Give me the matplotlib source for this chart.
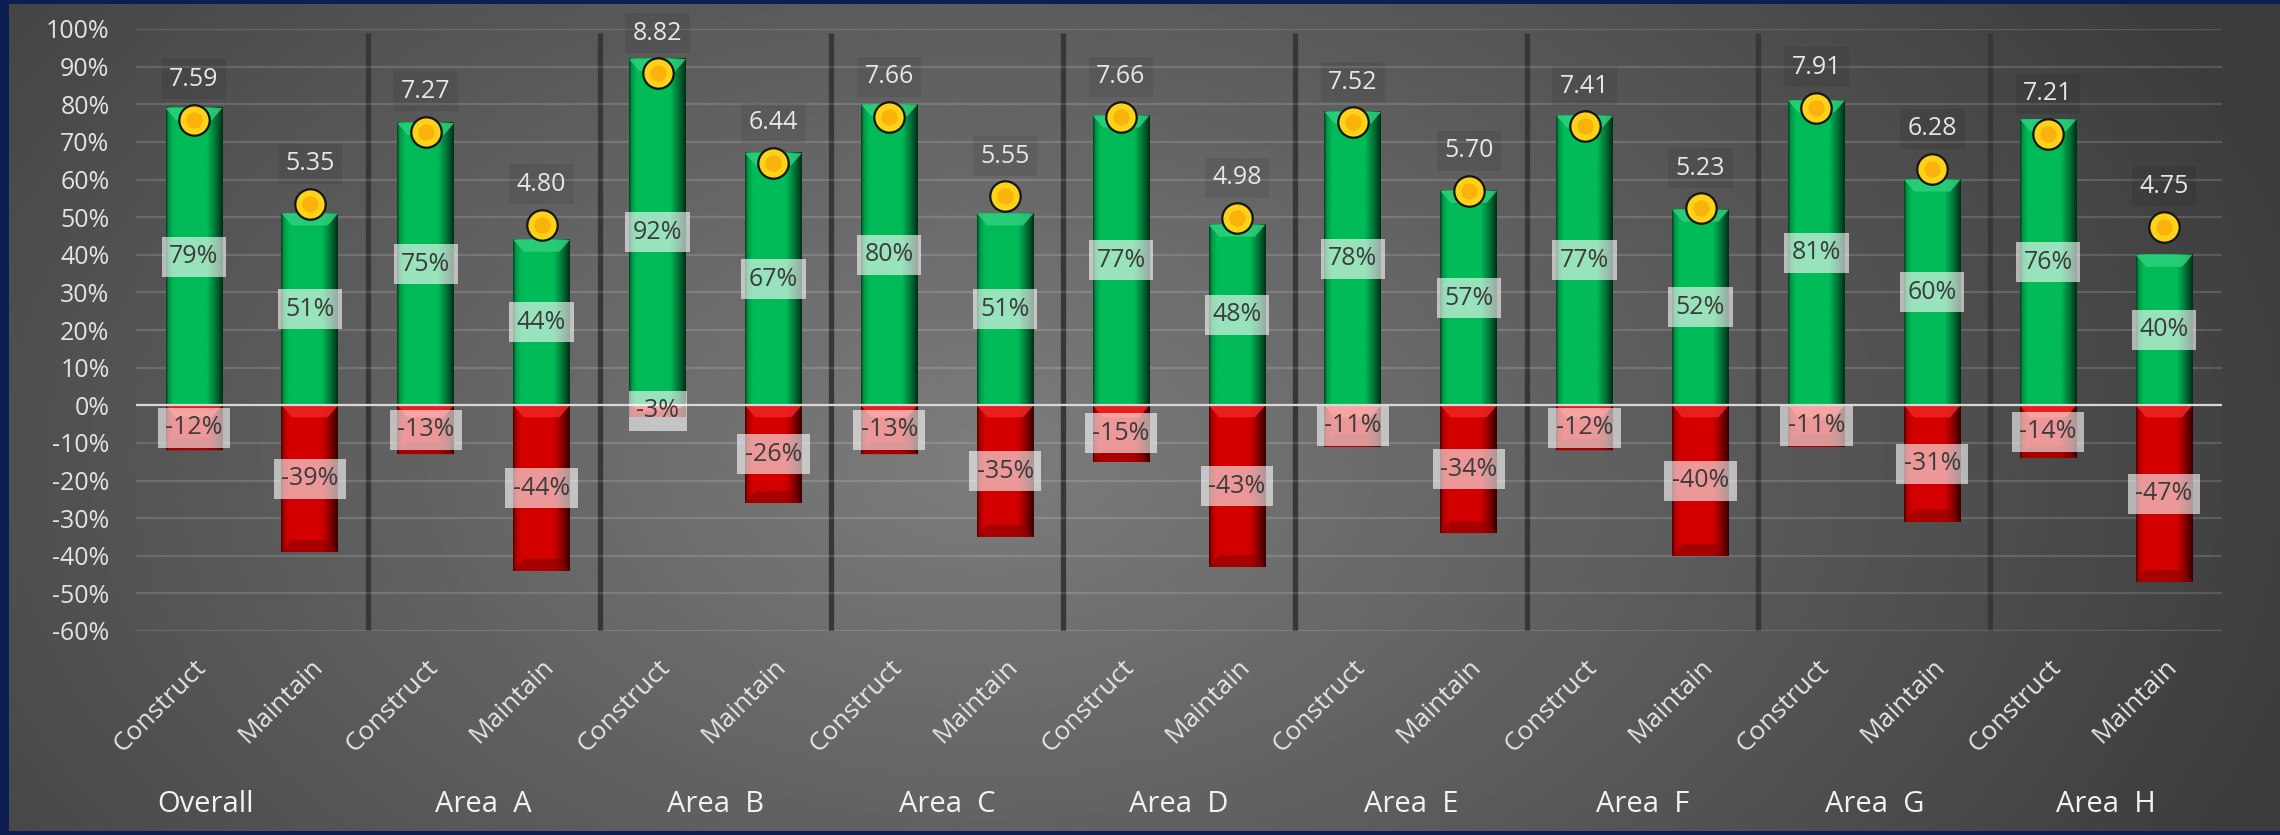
import matplotlib.pyplot as plt
import numpy as np
from matplotlib.colors import to_rgb
from matplotlib.patches import Polygon
from matplotlib.transforms import blended_transform_factory

plt.rcParams['font.family'] = ['Open Sans', 'DejaVu Sans']

groups = ['Overall', 'Area  A', 'Area  B', 'Area  C', 'Area  D',
          'Area  E', 'Area  F', 'Area  G', 'Area  H']
kinds = ['Construct', 'Maintain']

# share of positive / negative answers, percent
positive = [79, 51, 75, 44, 92, 67, 80, 51, 77, 48, 78, 57, 77, 52, 81, 60, 76, 40]
negative = [-12, -39, -13, -44, -3, -26, -13, -35, -15, -43, -11, -34, -12, -40, -11, -31, -14, -47]
# average score out of 10
scores = [7.59, 5.35, 7.27, 4.80, 8.82, 6.44, 7.66, 5.55, 7.66, 4.98,
          7.52, 5.70, 7.41, 5.23, 7.91, 6.28, 7.21, 4.75]

W, H = 2280, 835
fig = plt.figure(figsize=(W / 100, H / 100), dpi=100, facecolor='#0c1f50')

# gray backdrop, lighter towards the middle
bg = fig.add_axes([9 / W, 4 / H, 1 - 9 / W, 1 - 8 / H])
yy, xx = np.mgrid[0:1:300j, 0:1:600j]
r = np.sqrt(((xx - 0.43) / 0.62) ** 2 + ((yy - 0.45) / 1.1) ** 2)
shade = np.clip(0.49 - 0.26 * r, 0.24, 1)
bg.imshow(shade, cmap='gray', vmin=0, vmax=1, aspect='auto', extent=[0, 1, 0, 1], origin='lower')
bg.axis('off')

ax = fig.add_axes([136 / W, (H - 631) / H, 2086 / W, 602 / H])
ax.patch.set_alpha(0)

x = np.arange(len(positive))
width = 0.49


def shaded_bar(xc, y0, y1, base, light, dark, bevel_top=True, bevel_bottom=False):
    x0, x1 = xc - width / 2, xc + width / 2
    t = np.linspace(0, 1, 80)
    prof = np.interp(t, [0, 0.04, 0.14, 0.72, 0.9, 1.0], [0.35, 0.8, 1.0, 1.0, 0.55, 0.25])
    img = np.array(to_rgb(base))[None, None, :] * prof[None, :, None]
    ax.imshow(img, extent=[x0, x1, y0, y1], aspect='auto', interpolation='bicubic', zorder=2)
    h = min(3.2, (y1 - y0) * 0.4)
    dx = 0.09
    if bevel_top:
        ax.add_patch(Polygon([(x0, y1), (x1, y1), (x1 - dx, y1 - h), (x0 + dx, y1 - h)],
                             closed=True, fc=light, ec='none', alpha=0.85, zorder=3))
    if bevel_bottom:
        ax.add_patch(Polygon([(x0, y0), (x1, y0), (x1 - dx, y0 + h), (x0 + dx, y0 + h)],
                             closed=True, fc=dark, ec='none', alpha=0.6, zorder=3))


for i in range(len(x)):
    shaded_bar(x[i], 0, positive[i], '#00bb58', '#2fd07c', '#007a38')
    shaded_bar(x[i], negative[i], 0, '#d40000', '#f02424', '#8a0000', bevel_bottom=True)

    ax.text(x[i], positive[i] / 2, f'{positive[i]}%', ha='center', va='center',
            fontsize=18, color='#3c3c3c', zorder=5,
            bbox=dict(boxstyle='square,pad=0.3', fc='white', ec='none', alpha=0.6))
    ax.text(x[i], negative[i] / 2, f'{negative[i]}%', ha='center', va='center',
            fontsize=18, color='#3c3c3c', zorder=5,
            bbox=dict(boxstyle='square,pad=0.3', fc='white', ec='none', alpha=0.6))

    ax.annotate(f'{scores[i]:.2f}', (x[i], scores[i] * 10), xytext=(0, 29),
                textcoords='offset points', ha='center', va='center',
                fontsize=18, color='#e6e6e6', zorder=5,
                bbox=dict(boxstyle='square,pad=0.3', fc='black', ec='none', alpha=0.08))

score_y = np.array(scores) * 10
ax.scatter(x, score_y, s=480, c='#ffd21a', edgecolors='#151515', linewidths=1.6, zorder=6)
ax.scatter(x, score_y, s=140, c='#f59a00', alpha=0.55, linewidths=0, zorder=7)

# separators between the areas
ax.vlines(np.arange(1.5, len(x) - 1, 2), -61, 99, color='#373737', lw=3.8, zorder=1)

ax.set_yticks(range(-60, 101, 10))
ax.set_yticklabels([f'{v}%' for v in range(-60, 101, 10)])
ax.grid(axis='y', color='white', alpha=0.14, lw=1.6, zorder=0)
ax.axhline(0, color='#d8d8d8', lw=1.6, zorder=4)
ax.set_xticks(x)
ax.set_xticklabels(kinds * len(groups), rotation=45, ha='right', rotation_mode='anchor')
ax.tick_params(axis='y', length=0, pad=19, labelsize=18, labelcolor='#e2e2e2')
ax.tick_params(axis='x', length=0, pad=17, labelsize=19, labelcolor='#e4e4e4')
for s in ax.spines.values():
    s.set_visible(False)

ax.set_xlim(-0.5, len(x) - 0.5)
ax.set_ylim(-60, 100)

# area names under each pair; "Overall" sits a little to the left
trans = blended_transform_factory(ax.transData, fig.transFigure)
for g, name in enumerate(groups):
    gx = 2 * g + 0.5 if g else 0.1
    ax.text(gx, 0.037, name, transform=trans, ha='center', va='center',
            fontsize=21, color='#f2f2f2')

fig.savefig('out.png', dpi=100, facecolor=fig.get_facecolor())
